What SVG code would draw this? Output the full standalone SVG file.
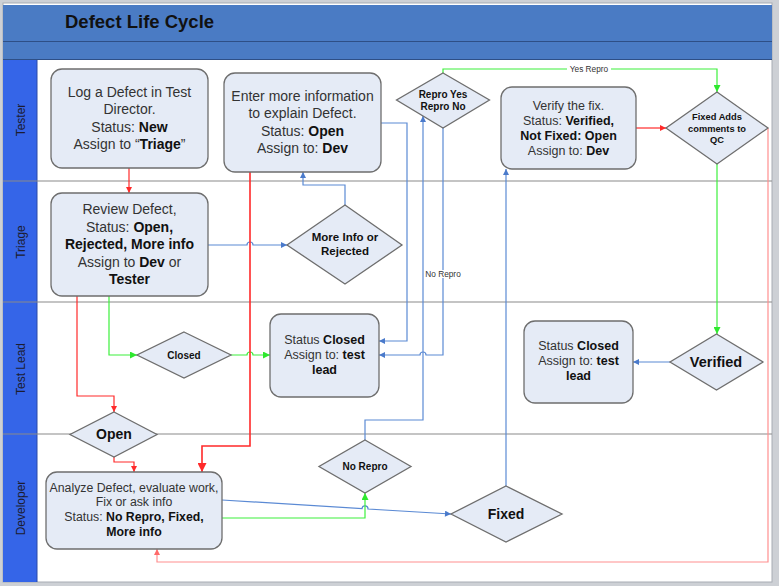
<svg xmlns="http://www.w3.org/2000/svg" width="779" height="586" viewBox="0 0 779 586">
<defs>
<style>
.node{fill:#e5ebf6;stroke:#6e6e6e;stroke-width:1.3}
.t{font-family:"Liberation Sans",Arial,sans-serif;fill:#333;text-anchor:middle}
.b{font-weight:bold;fill:#111}
.lane{font-family:"Liberation Sans",Arial,sans-serif;font-size:12px;fill:#1c1c30;text-anchor:middle}
.div{stroke:#8a8a8a;stroke-width:1.2}
.c{fill:none;stroke-width:1.2}
.red{stroke:#ff2a2a}
.lred{stroke:#ff8f8f}
.grn{stroke:#3cf03c}
.blu{stroke:#5b8ad4}
.lbl{font-family:"Liberation Sans",Arial,sans-serif;font-size:8.3px;fill:#333;text-anchor:middle}
</style>
<marker id="aR" viewBox="0 0 10 10" refX="10" refY="5" markerWidth="7" markerHeight="6" markerUnits="userSpaceOnUse" orient="auto"><path d="M0,0L10,5L0,10z" fill="#ff2a2a"/></marker>
<marker id="aRB" viewBox="0 0 10 10" refX="10" refY="5" markerWidth="11" markerHeight="9" markerUnits="userSpaceOnUse" orient="auto"><path d="M0,0L10,5L0,10z" fill="#ff2a2a"/></marker>
<marker id="aLR" viewBox="0 0 10 10" refX="10" refY="5" markerWidth="7" markerHeight="6" markerUnits="userSpaceOnUse" orient="auto"><path d="M0,0L10,5L0,10z" fill="#ff6a6a"/></marker>
<marker id="aG" viewBox="0 0 10 10" refX="10" refY="5" markerWidth="8" markerHeight="7" markerUnits="userSpaceOnUse" orient="auto"><path d="M0,0L10,5L0,10z" fill="#2ee82e"/></marker>
<marker id="aB" viewBox="0 0 10 10" refX="10" refY="5" markerWidth="7" markerHeight="6" markerUnits="userSpaceOnUse" orient="auto"><path d="M0,0L10,5L0,10z" fill="#4a7acb"/></marker>
</defs>

<!-- frame and lanes -->
<rect x="0" y="0" width="779" height="586" fill="#cdd0d5"/>
<rect x="3" y="3" width="769" height="579" fill="#ffffff" stroke="#a8acb4" stroke-width="1"/>
<rect x="3" y="5" width="769" height="36" fill="#4a7bc4"/>
<rect x="3" y="42" width="769" height="17" fill="#4a7bc4"/>
<line x1="3" y1="41.5" x2="772" y2="41.5" stroke="#2e4f86" stroke-width="1.2"/>
<line x1="3" y1="59.5" x2="772" y2="59.5" stroke="#2e4f86" stroke-width="1"/>
<text x="65" y="27.5" style="font-family:'Liberation Sans',Arial,sans-serif;font-size:18.5px;font-weight:bold;fill:#111">Defect Life Cycle</text>
<rect x="3" y="60" width="34" height="522" fill="#3565e8"/>
<line x1="37" y1="60" x2="37" y2="582" stroke="#2a4aa8" stroke-width="1"/>
<line class="div" x1="3" y1="181" x2="772" y2="181"/>
<line class="div" x1="3" y1="302" x2="772" y2="302"/>
<line class="div" x1="3" y1="434" x2="772" y2="434"/>
<text class="lane" transform="translate(24.5,120) rotate(-90)">Tester</text>
<text class="lane" transform="translate(24.5,242) rotate(-90)">Triage</text>
<text class="lane" transform="translate(24.5,369) rotate(-90)">Test Lead</text>
<text class="lane" transform="translate(24.5,508) rotate(-90)">Developer</text>

<!-- connectors -->
<g id="connectors">
<path class="c red" d="M129,168V193" marker-end="url(#aR)"/>
<path class="c red" d="M77,296V396H114V412" marker-end="url(#aR)"/>
<path class="c grn" d="M109,296V355H137" marker-end="url(#aG)"/>
<path class="c grn" d="M231,355H247a3,3 0 0 1 6,0H270" marker-end="url(#aG)"/>
<path class="c blu" d="M208,245H247a3,3 0 0 1 6,0H287" marker-end="url(#aB)"/>
<path class="c blu" d="M345,205V185H303V172" marker-end="url(#aB)"/>
<path class="c red" style="stroke-width:1.6" d="M250,172V446H202V472" marker-end="url(#aRB)"/>
<path class="c blu" d="M381,123H407V341H379" marker-end="url(#aB)"/>
<path class="c blu" d="M443,128V355H426a3,3 0 0 0 -6,0H379" marker-end="url(#aB)"/>
<path class="c grn" d="M443,73V69H717V92" marker-end="url(#aG)"/>
<path class="c blu" d="M365,440V420H423V116" marker-end="url(#aB)"/>
<path class="c blu" d="M506,486V169" marker-end="url(#aB)"/>
<path class="c red" d="M636,128H666" marker-end="url(#aR)"/>
<path class="c grn" d="M717,164V334" marker-end="url(#aG)"/>
<path class="c blu" d="M670,362H633" marker-end="url(#aB)"/>
<path class="c lred" d="M768,128V562H157V549" marker-end="url(#aLR)"/>
<path class="c red" d="M114,457V462H134V472" marker-end="url(#aR)"/>
<path class="c blu" d="M222,500L362,508.6a3,3 0 0 1 6,0.4L451,514" marker-end="url(#aB)"/>
<path class="c grn" d="M222,518H365V493" marker-end="url(#aG)"/>
<rect x="567" y="65" width="44" height="8" fill="#fff"/>
<text class="lbl" x="589" y="72">Yes Repro</text>
<rect x="424" y="270" width="39" height="8" fill="#fff"/>
<text class="lbl" x="443" y="277">No Repro</text>
</g>

<!-- nodes -->
<g id="log-defect">
<rect class="node" x="51" y="69" width="157" height="99" rx="11"/>
<text class="t" style="font-size:14px" x="129.5" y="97">Log a Defect in Test</text>
<text class="t" style="font-size:14px" x="129.5" y="114">Director.</text>
<text class="t" style="font-size:14px" x="129.5" y="132">Status: <tspan class="b">New</tspan></text>
<text class="t" style="font-size:14px" x="129.5" y="149">Assign to “<tspan class="b">Triage</tspan>”</text>
</g>
<g id="enter-info">
<rect class="node" x="224" y="73" width="157" height="99" rx="11"/>
<text class="t" style="font-size:14px" x="302.5" y="101">Enter more information</text>
<text class="t" style="font-size:14px" x="302.5" y="118">to explain Defect.</text>
<text class="t" style="font-size:14px" x="302.5" y="136">Status: <tspan class="b">Open</tspan></text>
<text class="t" style="font-size:14px" x="302.5" y="153">Assign to: <tspan class="b">Dev</tspan></text>
</g>
<g id="repro-decision">
<polygon class="node" points="443,73 489.5,100 443,128 396.5,100"/>
<text class="t b" style="font-size:10px" x="443" y="97.8">Repro Yes</text>
<text class="t b" style="font-size:10px" x="443" y="110.2">Repro No</text>
</g>
<g id="verify-fix">
<rect class="node" x="501" y="87" width="135" height="82" rx="11"/>
<text class="t" style="font-size:12.5px" x="568.5" y="109.5">Verify the fix.</text>
<text class="t" style="font-size:12.5px" x="568.5" y="124.5">Status: <tspan class="b">Verified,</tspan></text>
<text class="t b" style="font-size:12.5px" x="568.5" y="139.5">Not Fixed: Open</text>
<text class="t" style="font-size:12.5px" x="568.5" y="154.5">Assign to: <tspan class="b">Dev</tspan></text>
</g>
<g id="fixed-adds">
<polygon class="node" points="717,92 768,128 717,164 666,128"/>
<text class="t b" style="font-size:9.3px" x="717" y="120">Fixed Adds</text>
<text class="t b" style="font-size:9.3px" x="717" y="132">comments to</text>
<text class="t b" style="font-size:9.3px" x="717" y="142.6">QC</text>
</g>
<g id="review-defect">
<rect class="node" x="51" y="193" width="157" height="103" rx="11"/>
<text class="t" style="font-size:14px" x="129.5" y="214">Review Defect,</text>
<text class="t" style="font-size:14px" x="129.5" y="232">Status: <tspan class="b">Open,</tspan></text>
<text class="t b" style="font-size:14px" x="129.5" y="249">Rejected, More info</text>
<text class="t" style="font-size:14px" x="129.5" y="267">Assign to <tspan class="b">Dev</tspan> or</text>
<text class="t b" style="font-size:14px" x="129.5" y="284">Tester</text>
</g>
<g id="more-info-decision">
<polygon class="node" points="345,205 402,245 345,284 287,245"/>
<text class="t b" style="font-size:11.5px" x="345" y="241.3">More Info or</text>
<text class="t b" style="font-size:11.5px" x="345" y="255.3">Rejected</text>
</g>
<g id="closed-decision">
<polygon class="node" points="184,332 231,355 184,378 137,355"/>
<text class="t b" style="font-size:10px" x="184" y="358.6">Closed</text>
</g>
<g id="status-closed-left">
<rect class="node" x="270" y="314" width="109" height="83" rx="11"/>
<text class="t" style="font-size:12.5px" x="324.5" y="344.4">Status <tspan class="b">Closed</tspan></text>
<text class="t" style="font-size:12.5px" x="324.5" y="359.4">Assign to: <tspan class="b">test</tspan></text>
<text class="t b" style="font-size:12.5px" x="324.5" y="374.4">lead</text>
</g>
<g id="status-closed-right">
<rect class="node" x="524" y="321" width="109" height="82" rx="11"/>
<text class="t" style="font-size:12.5px" x="578.5" y="350.4">Status <tspan class="b">Closed</tspan></text>
<text class="t" style="font-size:12.5px" x="578.5" y="365.4">Assign to: <tspan class="b">test</tspan></text>
<text class="t b" style="font-size:12.5px" x="578.5" y="380.4">lead</text>
</g>
<g id="verified-decision">
<polygon class="node" points="716.5,334 763,362 716.5,390 670,362"/>
<text class="t b" style="font-size:14.5px" x="716" y="366.5">Verified</text>
</g>
<g id="open-decision">
<polygon class="node" points="114,412 157,434.5 114,457 70,434.5"/>
<text class="t b" style="font-size:14px" x="114" y="439">Open</text>
</g>
<g id="analyze-defect">
<rect class="node" x="46" y="472" width="176" height="77" rx="11"/>
<text class="t" style="font-size:12.3px" x="134" y="492.3">Analyze Defect, evaluate work,</text>
<text class="t" style="font-size:12.3px" x="134" y="506.3">Fix or ask info</text>
<text class="t" style="font-size:12.3px" x="134" y="521.3">Status: <tspan class="b">No Repro, Fixed,</tspan></text>
<text class="t b" style="font-size:12.3px" x="134" y="536.3">More info</text>
</g>
<g id="no-repro-decision">
<polygon class="node" points="365,440 411,466.5 365,493 319,466.5"/>
<text class="t b" style="font-size:10px" x="365" y="469.8">No Repro</text>
</g>
<g id="fixed-decision">
<polygon class="node" points="506,486 562,514 506,542 451,514"/>
<text class="t b" style="font-size:14px" x="506" y="518.5">Fixed</text>
</g>
</svg>
